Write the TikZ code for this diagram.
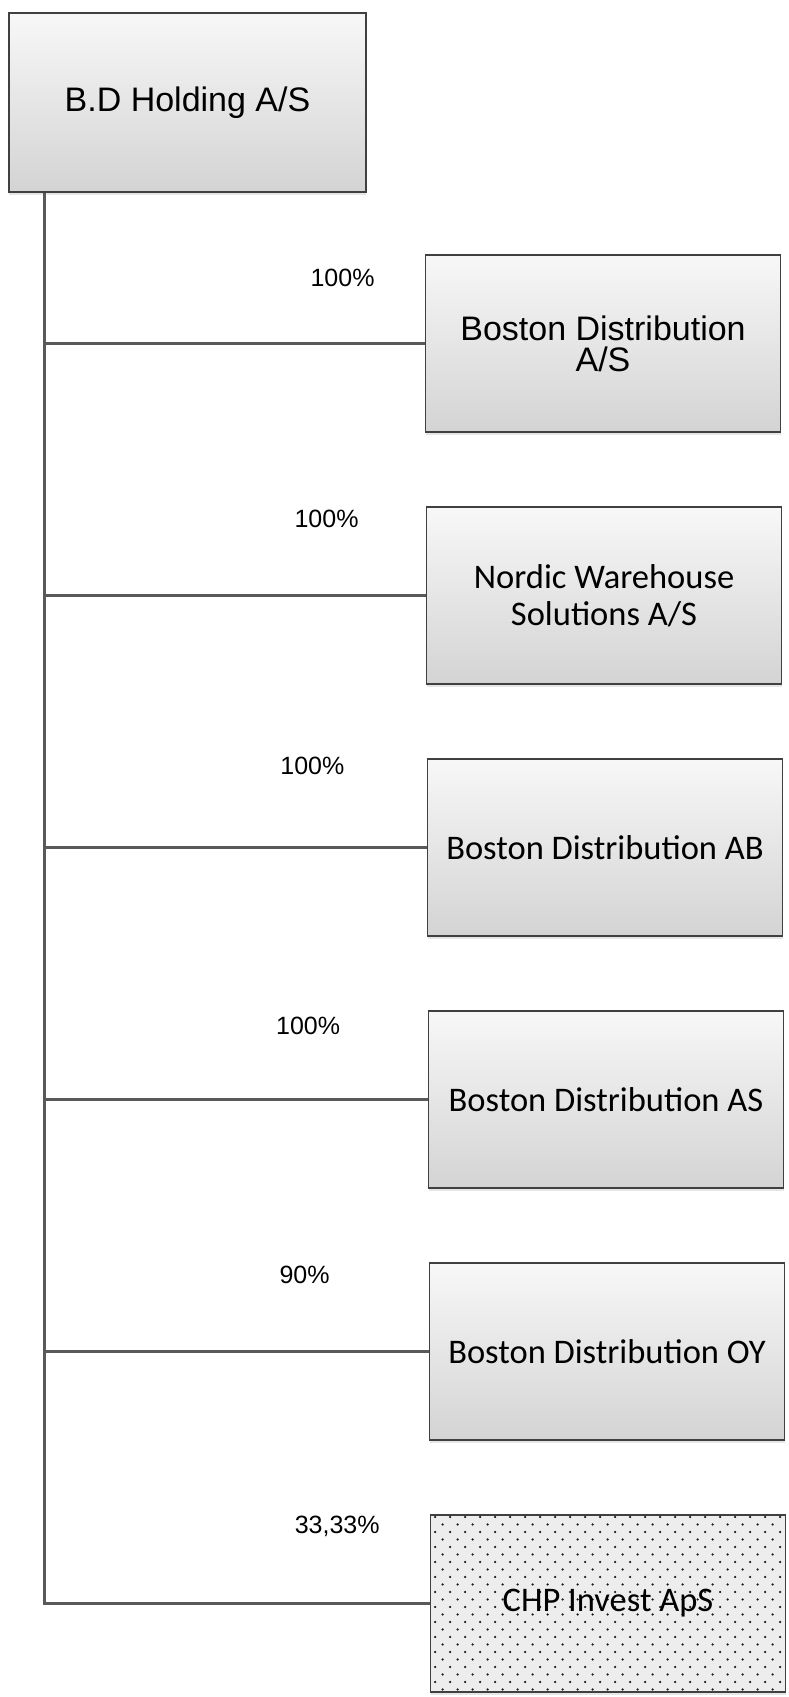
\documentclass[tikz,border=0pt]{standalone}
\usepackage{fontspec}
\setmainfont{Liberation Sans}
\newfontfamily\calibri{Carlito}
\usetikzlibrary{positioning, shadows, patterns.meta}
\tikzstyle{orgbox} = [%
  rectangle,
  draw=black!75,
  line width=1.5pt,
  minimum width=355pt,
  minimum height=177pt,
  align=center,
  text centered,
  text=black,
  inner sep=2pt,
  drop shadow={shadow xshift=0pt,shadow yshift=-3pt,opacity=0.2}
]
\tikzstyle{cbox} = [%
  orgbox,
  top color=gray!6,
  bottom color=gray!34
]
\tikzstyle{dotbox} = [%
  orgbox,
  fill=gray!14,
  postaction={pattern={Dots[distance=15pt,radius=1.25pt]},pattern color=black!90},
  postaction={pattern={Dots[distance=15pt,radius=1.25pt,xshift=7.5pt,yshift=7.5pt]},pattern color=black!90}
]

\begin{document}
\begin{tikzpicture}[%
  x=1pt, y=-1pt,
  link/.style={draw=black!65,line width=3.5pt},
  pct/.style={font=\fontsize{25pt}{25pt}\selectfont,text=black,inner sep=0pt},
  arialtxt/.style={font=\fontsize{34pt}{31pt}\selectfont},
  calibritxt/.style={font=\calibri\fontsize{34.5pt}{37pt}\selectfont}
]
  \useasboundingbox (0,0) rectangle (789,1697);

  % Nodes
  \node[cbox,arialtxt,minimum width=357pt,minimum height=179pt] (H) at (187.5,102.5) {B.D Holding A/S};
  \node[cbox,arialtxt] (B1) at (603,343.5) {Boston Distribution\\A/S};
  \node[cbox,calibritxt,below=73.5pt of B1,xshift=1pt] (B2) {Nordic Warehouse\\Solutions A/S};
  \node[cbox,calibritxt,below=73.5pt of B2,xshift=1pt] (B3) {Boston Distribution AB};
  \node[cbox,calibritxt,below=73.5pt of B3,xshift=1pt] (B4) {Boston Distribution AS};
  \node[cbox,calibritxt,below=73.5pt of B4,xshift=1pt] (B5) {Boston Distribution OY};
  \node[dotbox,calibritxt,below=73.5pt of B5,xshift=1pt] (B6) {CHP Invest ApS};

  \coordinate (root) at ([xshift=36pt]H.south west);

  % Ownership edges
  \draw[link] (root) |- node [pct,pos=0.88,yshift=77pt] {33,33\%} (B6.west);
  \draw[link] (root |- B1.west) -- node [pct,pos=0.784,yshift=66pt] {100\%} (B1.west);
  \draw[link] (root |- B2.west) -- node [pct,pos=0.740,yshift=77pt] {100\%} (B2.west);
  \draw[link] (root |- B3.west) -- node [pct,pos=0.701,yshift=82pt] {100\%} (B3.west);
  \draw[link] (root |- B4.west) -- node [pct,pos=0.688,yshift=74pt] {100\%} (B4.west);
  \draw[link] (root |- B5.west) -- node [pct,pos=0.677,yshift=77pt] {90\%} (B5.west);

\end{tikzpicture}
\end{document}
